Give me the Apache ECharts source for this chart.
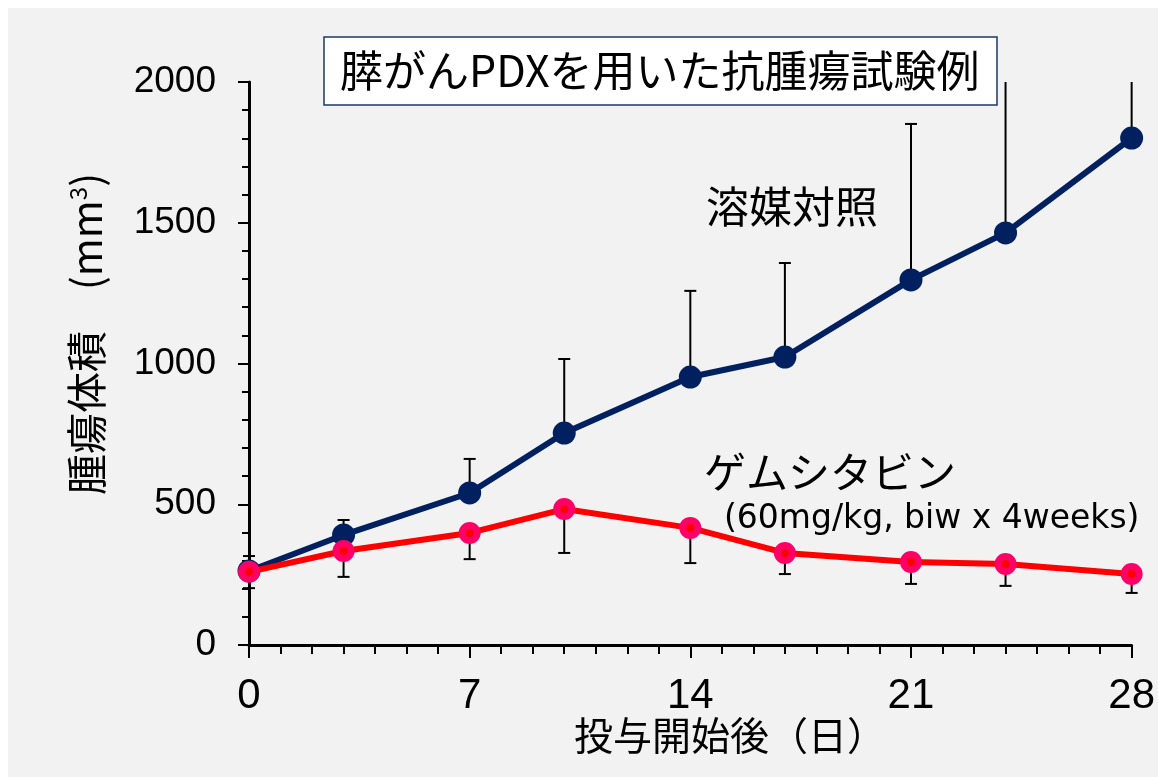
<!DOCTYPE html>
<html>
<head>
    <meta charset="utf-8">
    <title>抗腫瘍試験例</title>
    <script src="https://cdn.jsdelivr.net/npm/echarts@6/dist/echarts.min.js"></script>
    <style>
        body { margin: 0; background: #ffffff; }
        #main { width: 1158px; height: 777px; background: #f2f2f2; }
    </style>
</head>
<body>
<div id="main"></div>
<script>
    // 投与開始後の日数
    var days = [0, 3, 7, 10, 14, 17, 21, 24, 28];
    // 溶媒対照 平均値とエラーバー上端
    var vehicleMean = [263, 391, 540, 753, 952, 1023, 1297, 1464, 1801];
    var vehicleUpper = [316, 444, 661, 1016, 1258, 1357, 1851, 2200, 2300];
    // ゲムシタビン 平均値とエラーバー下端
    var gemMean = [260, 334, 398, 483, 416, 327, 295, 288, 252];
    var gemLower = [202, 242, 305, 327, 291, 252, 217, 210, 185];

    var xTicks = [0, 7, 14, 21, 28];
    var yTicks = [0, 500, 1000, 1500, 2000];

    var jp = '"Noto Sans CJK JP", "Noto Sans", sans-serif';
    var num = '"Liberation Sans", Arial, sans-serif';

    function pairs(xs, ys) {
        var out = [];
        for (var i = 0; i < xs.length; i++) out.push([xs[i], ys[i]]);
        return out;
    }
    function bars(xs, from, to) {
        var out = [];
        for (var i = 0; i < xs.length; i++) out.push([xs[i], from[i], to[i]]);
        return out;
    }

    var yMax = yTicks[yTicks.length - 1];

    function errorBar(params, api) {
        var x = api.value(0), from = api.value(1), to = api.value(2);
        var capped = to <= yMax;
        var end = Math.min(to, yMax);
        var p1 = api.coord([x, from]);
        var p2 = api.coord([x, end]);
        var st = { stroke: '#000000', lineWidth: 2 };
        var kids = [{ type: 'line', shape: { x1: p1[0], y1: p1[1], x2: p2[0], y2: p2[1] }, style: st }];
        if (capped) {
            kids.push({ type: 'line', shape: { x1: p2[0] - 6, y1: p2[1], x2: p2[0] + 6, y2: p2[1] }, style: st });
        }
        return { type: 'group', children: kids };
    }

    var myChart = echarts.init(document.getElementById('main'));
    var option = {
        animation: false,
        grid: { left: 249, right: 23, top: 82, bottom: 132 },
        xAxis: {
            type: 'value', min: 0, max: 28, interval: 7,
            axisLine: { lineStyle: { color: '#000', width: 3 } },
            axisTick: { length: 13, lineStyle: { color: '#000', width: 2 } },
            minorTick: { show: true, splitNumber: 7, length: 9, lineStyle: { color: '#000', width: 2 } },
            axisLabel: { color: '#000', fontSize: 42, fontFamily: num, margin: 30,
                formatter: function (v) { return xTicks.indexOf(v) >= 0 ? String(v) : ''; } },
            splitLine: { show: false }
        },
        yAxis: {
            type: 'value', min: 0, max: yMax, interval: 500,
            axisLine: { show: true, lineStyle: { color: '#000', width: 3 } },
            axisTick: { show: true, length: 11, lineStyle: { color: '#000', width: 2 } },
            minorTick: { show: true, splitNumber: 5, length: 7, lineStyle: { color: '#000', width: 2 } },
            axisLabel: { color: '#000', fontSize: 37, fontFamily: num, margin: 33,
                formatter: function (v) { return String(v); } },
            splitLine: { show: false }
        },
        series: [
            {
                type: 'custom', name: 'vehicleErr', z: 1,
                renderItem: errorBar, data: bars(days, vehicleMean, vehicleUpper)
            },
            {
                type: 'custom', name: 'gemErr', z: 1,
                renderItem: errorBar, data: bars(days, gemMean, gemLower)
            },
            {
                type: 'line', name: '溶媒対照', z: 3,
                data: pairs(days, vehicleMean),
                symbol: 'circle', symbolSize: 23,
                lineStyle: { color: '#002060', width: 6 },
                itemStyle: { color: '#002060' }
            },
            {
                type: 'line', name: 'ゲムシタビン', z: 4,
                data: pairs(days, gemMean),
                symbol: 'circle', symbolSize: 15,
                lineStyle: { color: '#ff0000', width: 6 },
                itemStyle: { color: '#ff0000', borderColor: '#ff0066', borderWidth: 7 }
            }
        ],
        graphic: [
            { type: 'rect', shape: { x: 0, y: 0, width: 1158, height: 8 }, style: { fill: '#ffffff' }, silent: true },
            { type: 'rect', shape: { x: 0, y: 0, width: 8, height: 777 }, style: { fill: '#ffffff' }, silent: true },
            {
                type: 'rect', shape: { x: 324, y: 37, width: 673, height: 68 },
                style: { fill: '#ffffff', stroke: '#203864', lineWidth: 1.5 }, z: 10
            },
            {
                type: 'text', x: 340, y: 71, z: 11,
                style: { text: '膵がんPDXを用いた抗腫瘍試験例', font: '43px ' + jp, fill: '#000',
                    textAlign: 'left', textVerticalAlign: 'middle' }
            },
            {
                type: 'text', x: 706, y: 207, z: 11,
                style: { text: '溶媒対照', font: '43px ' + jp, fill: '#000',
                    textAlign: 'left', textVerticalAlign: 'middle' }
            },
            {
                type: 'text', x: 704, y: 472, z: 11,
                style: { text: 'ゲムシタビン', font: '42px ' + jp, fill: '#000',
                    textAlign: 'left', textVerticalAlign: 'middle' }
            },
            {
                type: 'text', x: 724, y: 519, z: 11,
                style: { text: '(60mg/kg, biw x 4weeks)', font: '33px "DejaVu Sans", sans-serif', fill: '#000',
                    textAlign: 'left', textVerticalAlign: 'middle' }
            },
            {
                type: 'text', x: 730, y: 735, z: 11,
                style: { text: '投与開始後（日）', font: '39px ' + jp, fill: '#000',
                    textAlign: 'center', textVerticalAlign: 'middle' }
            },
            {
                type: 'text', x: 86, y: 334, z: 11, rotation: Math.PI / 2,
                style: {
                    text: '腫瘍体積\u3000(mm{sup|3})', font: '41px ' + jp, fill: '#000',
                    textAlign: 'center', textVerticalAlign: 'middle',
                    rich: { sup: { fontSize: 24, fontFamily: jp, fill: '#000', verticalAlign: 'top' } }
                }
            }
        ]
    };
    myChart.setOption(option);
</script>
</body>
</html>
